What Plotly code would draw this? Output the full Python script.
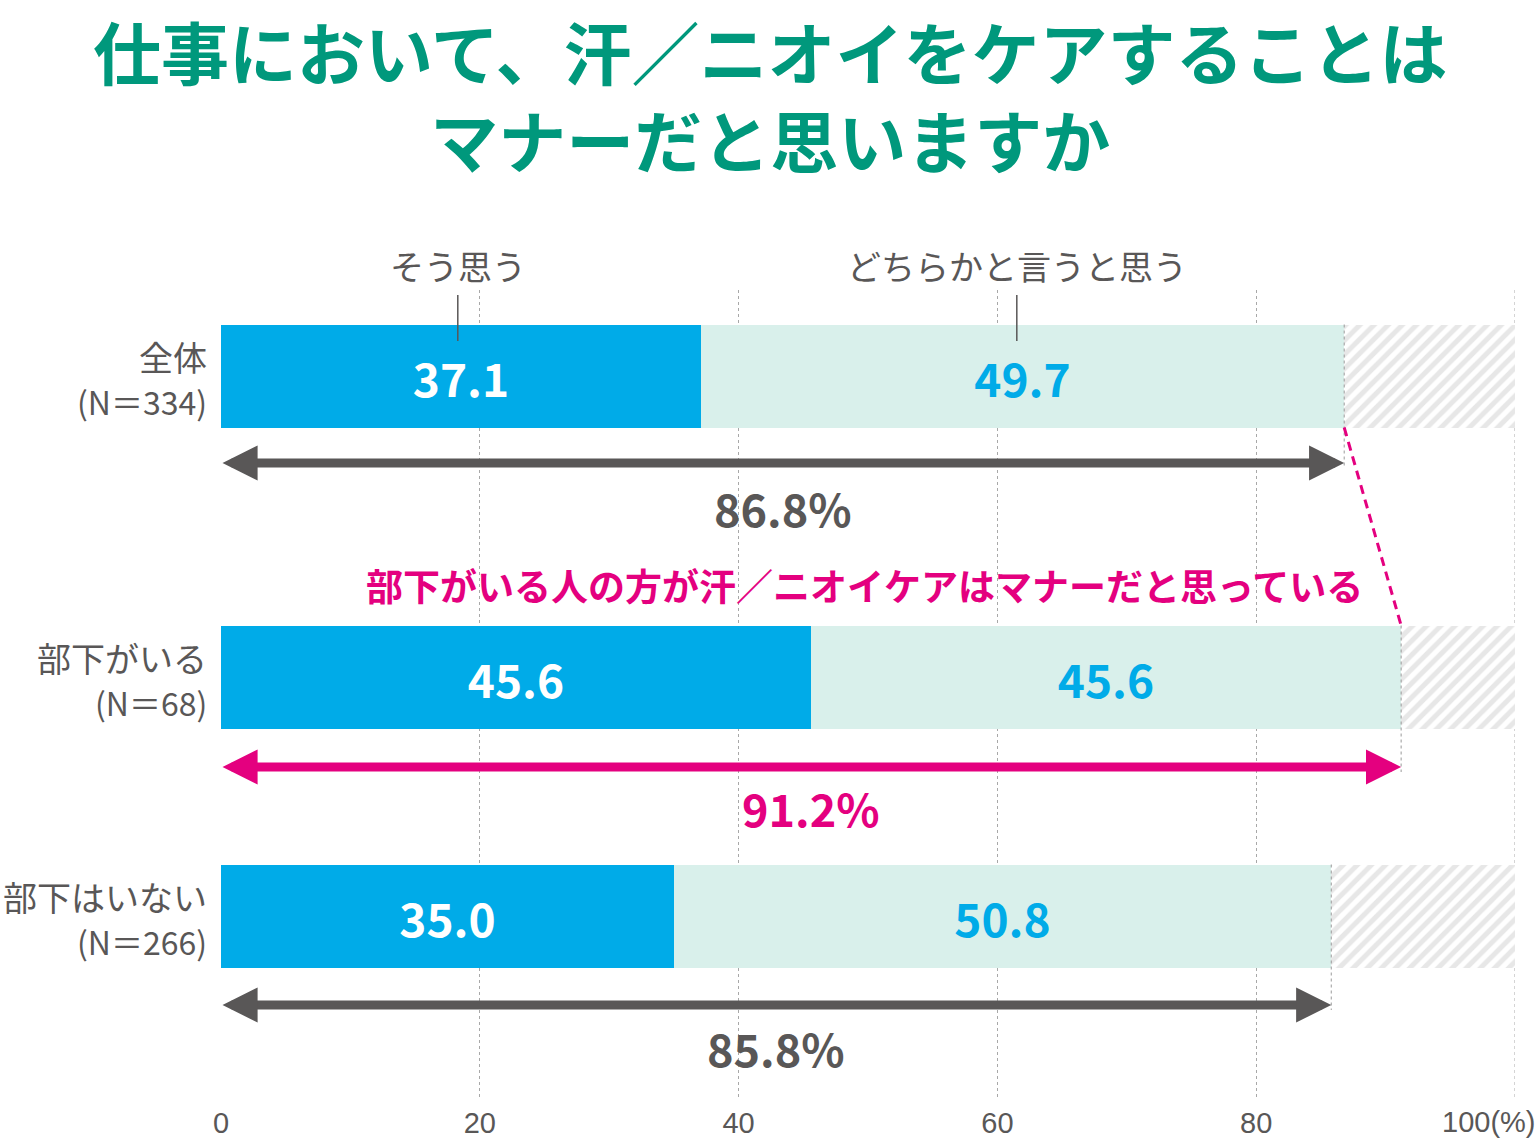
import plotly.graph_objects as go

# ---- data ----
categories = ["全体", "部下がいる", "部下はいない"]
n_labels = ["(N＝334)", "(N＝68)", "(N＝266)"]
sou_omou = [37.1, 45.6, 35.0]
dochiraka = [49.7, 45.6, 50.8]
totals = [86.8, 91.2, 85.8]
series_names = ["そう思う", "どちらかと言うと思う"]
tick_vals = [0, 20, 40, 60, 80]
title_lines = ["仕事において、汗／ニオイをケアすることは", "マナーだと思いますか"]
callout = "部下がいる人の方が汗／ニオイケアはマナーだと思っている"

# ---- layout constants (pixel-like y coordinates) ----
W, H = 1540, 1140
PLOT_TOP, PLOT_BOT = 290, 1097
PLOT_L, PLOT_R = 221, 1515
bar_y = [376, 677, 916]
bar_h = 103
arrow_y = [463, 767, 1005]
total_y = [508, 808, 1047]


def py(p):
    """pixel row -> paper y"""
    return (PLOT_BOT - p) / (PLOT_BOT - PLOT_TOP)


def px(p):
    """pixel column -> paper x"""
    return (p - PLOT_L) / (PLOT_R - PLOT_L)


FONT = "Noto Sans CJK JP"
BLUE = "#00ABE8"
MINT = "#D9F0EB"
GRAY = "#595757"
PINK = "#E4007F"
TEAL = "#00987C"

rest = [round(100 - t, 1) for t in totals]
base2 = sou_omou
base3 = [a + b for a, b in zip(sou_omou, dochiraka)]

fig = go.Figure()
fig.add_trace(go.Bar(
    y=bar_y, x=sou_omou, orientation="h", width=bar_h,
    marker=dict(color=BLUE, line=dict(width=0)),
    text=[f"{v:.1f}" for v in sou_omou], textposition="inside",
    insidetextanchor="middle", constraintext="none",
    textfont=dict(family=FONT, size=46, color="white", weight="bold"),
    showlegend=False, hoverinfo="skip", name=series_names[0]))
fig.add_trace(go.Bar(
    y=bar_y, x=dochiraka, base=base2, orientation="h", width=bar_h,
    marker=dict(color=MINT, line=dict(width=0)),
    text=[f"{v:.1f}" for v in dochiraka], textposition="inside",
    insidetextanchor="middle", constraintext="none",
    textfont=dict(family=FONT, size=46, color=BLUE, weight="bold"),
    showlegend=False, hoverinfo="skip", name=series_names[1]))
fig.add_trace(go.Bar(
    y=bar_y, x=rest, base=base3, orientation="h", width=bar_h,
    marker=dict(color="white", line=dict(width=0),
                pattern=dict(shape="/", fgcolor="#CFCFCF", bgcolor="white",
                             size=10, solidity=0.5)),
    showlegend=False, hoverinfo="skip"))

ann = []
shapes = []

# title (one annotation, two lines)
ann.append(dict(xref="paper", yref="paper", x=px(W / 2), y=py(0), text="<br>".join(title_lines),
                showarrow=False, xanchor="center", yanchor="top", borderpad=0, align="center",
                font=dict(family=FONT, size=68, color=TEAL, weight="bold")))

# series labels and leader lines
for name, xv in zip(series_names, [18.3, 61.5]):
    ann.append(dict(xref="x", yref="paper", x=xv, y=py(265), text=name, showarrow=False,
                    xanchor="center", yanchor="middle",
                    font=dict(family=FONT, size=34, color=GRAY)))
    shapes.append(dict(type="line", xref="x", yref="y", x0=xv, x1=xv, y0=295, y1=341,
                       line=dict(color=GRAY, width=1.5), layer="above"))

# category labels
for cat, nl, yv in zip(categories, n_labels, bar_y):
    ann.append(dict(xref="paper", yref="paper", x=0, y=py(yv - 20), text=cat, showarrow=False,
                    xanchor="right", yanchor="middle", xshift=-12,
                    font=dict(family=FONT, size=34, color=GRAY)))
    ann.append(dict(xref="paper", yref="paper", x=0, y=py(yv + 25), text=nl, showarrow=False,
                    xanchor="right", yanchor="middle", xshift=-12,
                    font=dict(family=FONT, size=32, color=GRAY)))

# arrows and totals
colors = [GRAY, PINK, GRAY]
for t, ay, ty, c, yb in zip(totals, arrow_y, total_y, colors, bar_y):
    ann.append(dict(xref="x", yref="y", axref="x", ayref="y", x=t, y=ay, ax=0, ay=ay,
                    text="", showarrow=True, arrowhead=2, startarrowhead=2,
                    arrowside="end+start", arrowwidth=9, arrowsize=0.78,
                    startarrowsize=0.78, arrowcolor=c))
    ann.append(dict(xref="x", yref="paper", x=t / 2, y=py(ty), text=f"{t:.1f}%", showarrow=False,
                    xanchor="center", yanchor="middle",
                    font=dict(family=FONT, size=45, color=c, weight="bold")))
    shapes.append(dict(type="line", xref="x", yref="y", x0=t, x1=t, y0=yb - bar_h / 2,
                       y1=ay + 5, line=dict(color="#9A9A9A", width=1, dash="3px,3px"),
                       layer="above"))

# pink callout
ann.append(dict(xref="paper", yref="paper", x=px(864), y=py(585), text=callout,
                showarrow=False, xanchor="center", yanchor="middle",
                font=dict(family=FONT, size=37, color=PINK, weight="bold")))
shapes.append(dict(type="line", xref="x", yref="y", x0=totals[0], x1=totals[1],
                   y0=bar_y[0] + bar_h / 2, y1=bar_y[1] - bar_h / 2,
                   line=dict(color=PINK, width=3, dash="9px,6px"), layer="above"))

# 100(%) label
ann.append(dict(xref="x", yref="paper", x=100, y=py(1122), text="100(%)",
                showarrow=False, xanchor="right", yanchor="middle", xshift=23,
                font=dict(family="Liberation Sans", size=29, color=GRAY)))

fig.update_layout(
    width=W, height=H, barmode="overlay", bargap=0,
    margin=dict(l=PLOT_L, r=W - PLOT_R, t=PLOT_TOP, b=H - PLOT_BOT, pad=0, autoexpand=False),
    plot_bgcolor="white", paper_bgcolor="white",
    annotations=ann, shapes=shapes,
    xaxis=dict(range=[0, 100], tickvals=tick_vals, ticktext=[str(v) for v in tick_vals],
               showgrid=True, gridcolor="#A8A8A8", gridwidth=1, griddash="3px,3px",
               zeroline=False, showline=False, ticks="", ticklabelstandoff=6,
               automargin=False,
               tickfont=dict(family="Liberation Sans", size=29, color=GRAY),
               fixedrange=True),
    yaxis=dict(range=[PLOT_BOT, PLOT_TOP], showgrid=False, zeroline=False,
               showticklabels=False, ticks="", fixedrange=True, automargin=False),
)
# vertical gridline at 100
fig.add_shape(type="line", xref="x", yref="paper", x0=100, x1=100, y0=0, y1=1,
              line=dict(color="#A8A8A8", width=1, dash="3px,3px"), layer="below")

fig.write_html("out.html", config={"displayModeBar": False},
               post_script="document.body.style.margin='0';")
